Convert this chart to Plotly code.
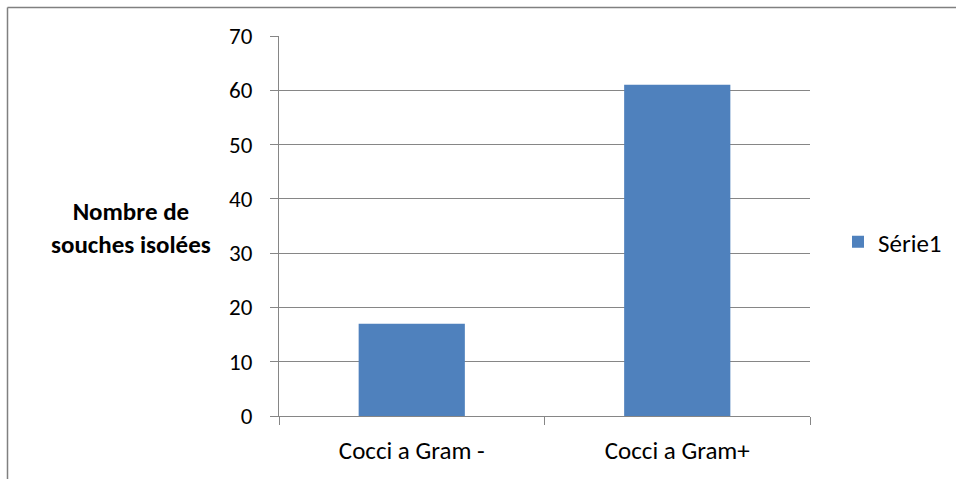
import plotly.graph_objects as go

# Data
categories = ["Cocci a Gram -", "Cocci a Gram+"]
values = [17, 61]
series_name = "Série1"
y_ticks = [0, 10, 20, 30, 40, 50, 60, 70]
y_title_lines = ["Nombre de", "souches isolées"]

W, H = 956, 479
L, R, T, B = 279, 146, 36, 63
FONT = "Carlito, Calibri, Lato, sans-serif"
GRID = "#868686"
BAR = "#4F81BD"

fig = go.Figure()
fig.add_trace(go.Bar(
    x=categories, y=values, name=series_name,
    marker=dict(color=BAR, line=dict(width=0)),
    showlegend=True,
))

plot_w = W - L - R
plot_h = H - T - B

def px_x(p):
    return (p - L) / plot_w

def px_y(p):
    return (H - B - p) / plot_h

# outer chart frame (left and top edges)
fig.add_shape(type="line", xref="paper", yref="paper",
              x0=px_x(7.5), x1=px_x(960), y0=px_y(7.5), y1=px_y(7.5),
              line=dict(color="#808080", width=1.5))
fig.add_shape(type="line", xref="paper", yref="paper",
              x0=px_x(7.5), x1=px_x(7.5), y0=px_y(7.5), y1=px_y(485),
              line=dict(color="#808080", width=1.5))

fig.add_annotation(
    text="<b>" + "<br>".join(y_title_lines) + "</b>",
    xref="paper", yref="paper", x=px_x(131), y=px_y(228),
    showarrow=False, align="center", xanchor="center", yanchor="middle",
    font=dict(family=FONT, size=25, color="#000000"),
)

fig.update_layout(
    width=W, height=H,
    margin=dict(l=L, r=R, t=T, b=B, pad=0, autoexpand=False),
    paper_bgcolor="white", plot_bgcolor="white",
    bargap=0.6,
    font=dict(family=FONT, size=25, color="#000000"),
    showlegend=True,
    legend=dict(xref="container", yref="container",
                x=838 / W, y=1 - 242 / H, xanchor="left", yanchor="middle",
                font=dict(family=FONT, size=25, color="#000000"),
                itemwidth=30, bgcolor="rgba(0,0,0,0)"),
    xaxis=dict(
        type="category", showgrid=False, showline=True, linecolor=GRID, linewidth=1,
        ticks="outside", tickson="boundaries", ticklen=8, tickcolor=GRID, tickwidth=1,
        tickfont=dict(family=FONT, size=25), zeroline=False, ticklabelstandoff=12,
        automargin=False,
    ),
    yaxis=dict(
        range=[0, 70], tickvals=y_ticks, showgrid=True, gridcolor=GRID, gridwidth=1,
        showline=True, linecolor=GRID, linewidth=1, ticks="outside", ticklen=8,
        tickcolor=GRID, tickwidth=1, zeroline=False,
        tickfont=dict(family=FONT, size=23), ticklabelstandoff=13,
        automargin=False,
    ),
)

fig.write_html("out.html")
